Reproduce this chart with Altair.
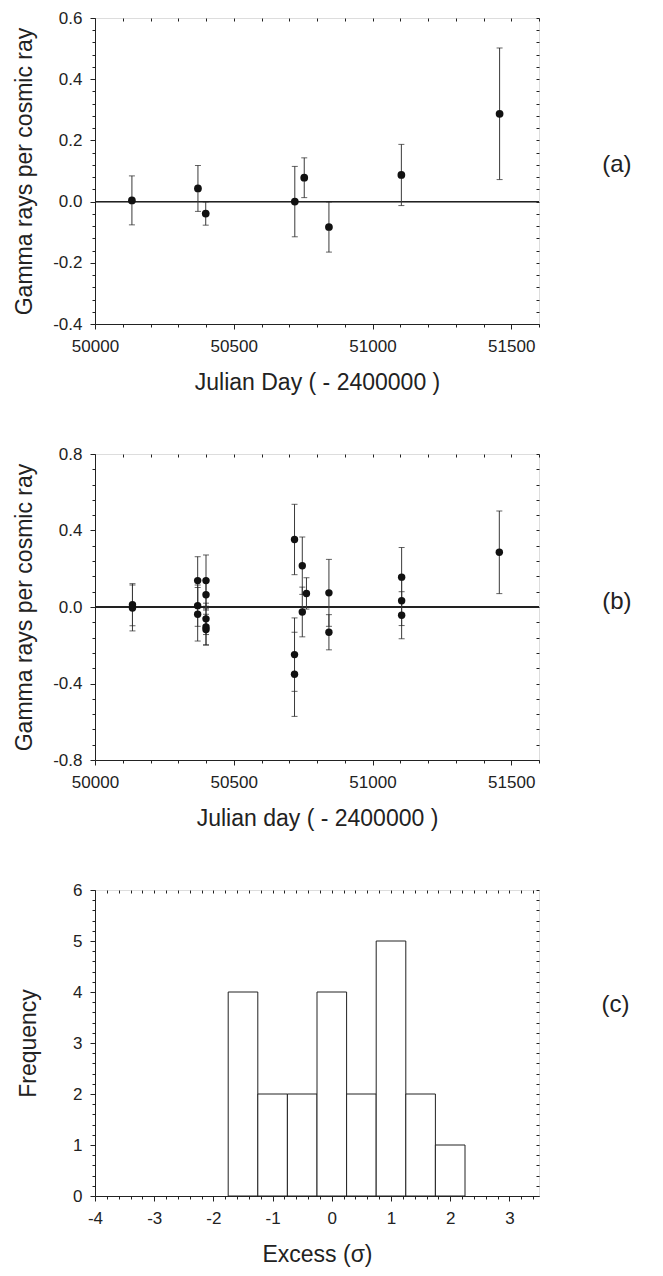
import altair as alt
import numpy as np
import pandas as pd

FONT = "Liberation Sans"
INK = "#222222"

# ---------------- Panel (a) ----------------
a_day = [50133, 50371, 50399, 50720, 50754, 50843, 51104, 51458]
a_rate = [0.004, 0.043, -0.039, 0.000, 0.078, -0.083, 0.087, 0.287]
a_err = [0.080, 0.075, 0.038, 0.115, 0.065, 0.082, 0.100, 0.215]

# ---------------- Panel (b) ----------------
b_day = [50135, 50135, 50370, 50370, 50370, 50400, 50400, 50400, 50400, 50400,
         50719, 50719, 50719, 50747, 50747, 50762, 50843, 50843,
         51105, 51105, 51105, 51457]
b_rate = [0.012, -0.005, 0.138, 0.007, -0.038, 0.138, 0.064, -0.062, -0.104, -0.118,
          0.353, -0.249, -0.352, 0.216, -0.026, 0.071, 0.074, -0.132,
          0.156, 0.033, -0.043, 0.286]
b_err = [0.110, 0.120, 0.125, 0.108, 0.140, 0.134, 0.080, 0.082, 0.095, 0.080,
         0.184, 0.192, 0.220, 0.150, 0.130, 0.082, 0.175, 0.092,
         0.155, 0.130, 0.123, 0.216]

# ---------------- Panel (c) ----------------
c_bin_left = [-1.75, -1.25, -0.75, -0.25, 0.25, 0.75, 1.25, 1.75]
c_count = [4, 2, 2, 4, 2, 5, 2, 1]
c_bin_width = 0.5

# tick positions
day_ticks = [int(v) for v in np.arange(50000, 51601, 100)]
a_rate_ticks = [round(v, 2) for v in np.arange(-0.4, 0.6001, 0.04)]
b_rate_ticks = [round(v, 2) for v in np.arange(-0.8, 0.8001, 0.08)]
c_x_ticks = [round(v, 1) for v in np.arange(-4.0, 3.5001, 0.2)]
c_y_ticks = [round(v, 1) for v in np.arange(0.0, 6.0001, 0.2)]

W, H = 444, 306
LABEL_FS, TITLE_FS, TAG_FS = 17, 23, 24


def major_test(step):
    return f"abs(datum.value/{step} - round(datum.value/{step})) < 1e-6"


def main_axis(values, step, fmt, title, orient, label_pad, title_pad):
    test = major_test(step)
    return alt.Axis(
        values=values, orient=orient, title=title, grid=False,
        labelExpr=f"({test}) ? replace(format(datum.value, '{fmt}'), '\u2212', '-') : ''",
        tickSize={"condition": {"test": test, "value": 5}, "value": 3},
        labelOverlap=False, labelFlush=False, labelBound=False,
        labelPadding=label_pad, titlePadding=title_pad,
        labelFontSize=LABEL_FS, titleFontSize=TITLE_FS, titleFontWeight="normal",
        labelFont=FONT, titleFont=FONT,
        domainColor=INK, tickColor=INK, labelColor=INK, titleColor=INK,
    )


def mirror_axis(values, orient):
    return alt.Axis(values=values, orient=orient, title=None, labels=False,
                    domain=False, grid=False, tickSize=3, offset=-3,
                    tickColor=INK)


def tag_title(tag, dy):
    return alt.Title(tag, orient="right", angle=0, anchor="middle", offset=48, dy=dy,
                     fontSize=TAG_FS, font=FONT, fontWeight="normal", color=INK)


def scatter_panel(day, rate, err, ydom, yticks, ystep, xtitle, ytitle, tag, dot, dy):
    df = pd.DataFrame({"day": day, "rate": rate, "err": err})
    df["lo"] = df["rate"] - df["err"]
    df["hi"] = df["rate"] + df["err"]
    xs = alt.Scale(domain=[50000, 51600], nice=False, zero=False)
    ys = alt.Scale(domain=ydom, nice=False, zero=False)
    base = alt.Chart(df)
    zero = base.mark_rule(color=INK, strokeWidth=1).encode(
        y=alt.Y(datum=0, scale=ys,
                axis=main_axis(yticks, ystep, ".1f", ytitle, "left", 8, 16)))
    bars = base.mark_rule(color="#3a3a3a", strokeWidth=1).encode(
        x=alt.X("day:Q", scale=xs,
                axis=main_axis(day_ticks, 500, "d", xtitle, "bottom", 9, 17)),
        y=alt.Y("lo:Q", scale=ys, axis=None), y2="hi:Q")
    cap_lo = base.mark_tick(color=INK, orient="horizontal", size=6, thickness=1).encode(
        x=alt.X("day:Q", scale=xs, axis=None), y=alt.Y("lo:Q", scale=ys, axis=None))
    cap_hi = base.mark_tick(color=INK, orient="horizontal", size=6, thickness=1).encode(
        x=alt.X("day:Q", scale=xs, axis=None), y=alt.Y("hi:Q", scale=ys, axis=None))
    pts = base.mark_circle(color="#111111", opacity=1, size=dot).encode(
        x=alt.X("day:Q", scale=xs, axis=mirror_axis(day_ticks, "top")),
        y=alt.Y("rate:Q", scale=ys, axis=mirror_axis(yticks, "right")))
    return alt.layer(zero, bars, cap_lo, cap_hi, pts).resolve_axis(
        x="independent", y="independent").properties(
        width=W, height=H, title=tag_title(tag, dy))


panel_a = scatter_panel(a_day, a_rate, a_err, [-0.4, 0.6], a_rate_ticks, 0.2,
                        "Julian Day ( - 2400000 )", "Gamma rays per cosmic ray", "(a)", 60, -18)
panel_b = scatter_panel(b_day, b_rate, b_err, [-0.8, 0.8], b_rate_ticks, 0.4,
                        "Julian day ( - 2400000 )", "Gamma rays per cosmic ray", "(b)", 55, -17)

hist_df = pd.DataFrame({"left": c_bin_left, "count": c_count})
cxs = alt.Scale(domain=[-4, 3.5], nice=False, zero=False)
cys = alt.Scale(domain=[0, 6], nice=False)
hbase = alt.Chart(hist_df).transform_calculate(right=f"datum.left + {c_bin_width}")
hist = hbase.mark_rect(fill="white", stroke=INK, strokeWidth=1).encode(
    x=alt.X("left:Q", scale=cxs,
            axis=main_axis(c_x_ticks, 1, "d", "Excess (\u03c3)", "bottom", 9, 17)),
    x2="right:Q",
    y=alt.Y("count:Q", scale=cys,
            axis=main_axis(c_y_ticks, 1, "d", "Frequency", "left", 8, 32)),
    y2=alt.Y2(datum=0))
hmirror = hbase.mark_point(opacity=0).encode(
    x=alt.X("left:Q", scale=cxs, axis=mirror_axis(c_x_ticks, "top")),
    y=alt.Y("count:Q", scale=cys, axis=mirror_axis(c_y_ticks, "right")))
panel_c = alt.layer(hist, hmirror).resolve_axis(
    x="independent", y="independent").properties(width=W, height=H, title=tag_title("(c)", -50))

chart = alt.vconcat(panel_a, panel_b, panel_c, spacing=49).properties(
    padding={"left": 5, "top": 0, "right": 5, "bottom": 0}
).configure_view(stroke=INK, strokeWidth=1).configure(background="white")

chart.save("out.html", embed_options={"renderer": "svg", "actions": False})
